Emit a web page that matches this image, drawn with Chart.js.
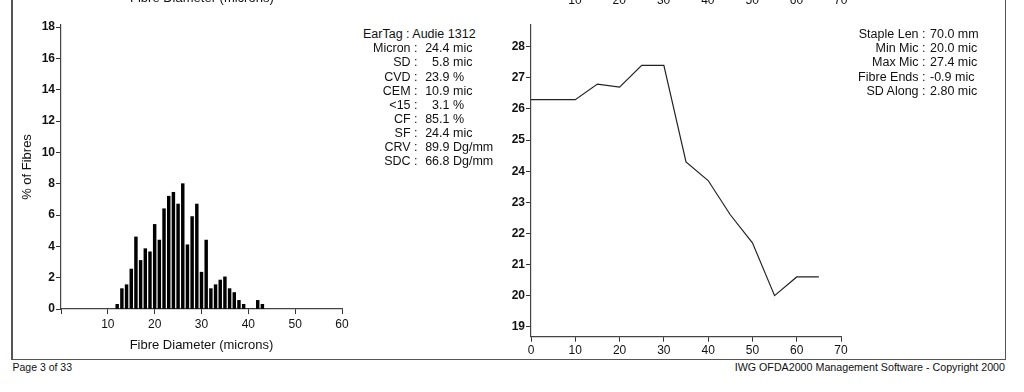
<!DOCTYPE html>
<html>
<head>
<meta charset="utf-8">
<script src="https://cdn.jsdelivr.net/npm/chart.js"></script>
<style>
  body { margin:0; background:#fff; }
  #page { position:relative; width:1024px; height:392px; overflow:hidden; font-family:'Liberation Sans', Arial, sans-serif; color:#111; }
  .t { position:absolute; white-space:pre; font-size:12.5px; line-height:14px; }
  .r { text-align:right; }
  .line { position:absolute; background:#555; }
  canvas { position:absolute; }
</style>
</head>
<body>
<div id="page">
  <div class="line" style="left:11px;top:0;width:1.5px;height:360px"></div>
  <div class="line" style="left:1004.5px;top:0;width:1.5px;height:360px"></div>
  <div class="line" style="left:11px;top:358.5px;width:995px;height:1.5px"></div>

  <canvas id="hist" width="346" height="356" style="left:14px;top:0"></canvas>
  <canvas id="along" width="370" height="356" style="left:490px;top:0"></canvas>
</div>
<script>
// histogram, % of fibres per micron class
const fibreMicrons = [12,13,14,15,16,17,18,19,20,21,22,23,24,25,26,27,28,29,30,31,32,33,34,35,36,37,38,39,40,41,42,43];
const fibrePercent = [0.3,1.3,1.55,2.55,4.6,3.1,3.85,3.65,5.4,4.4,6.4,7.2,7.45,6.7,8.0,4.1,5.9,6.7,2.35,4.4,1.3,1.55,1.85,2.05,1.3,1.05,0.55,0.3,0,0,0.55,0.3];
const histYTicks = [0,2,4,6,8,10,12,14,16,18];

// profile along the staple
const stapleMm = [0,5,10,15,20,25,30,35,40,45,50,55,60,65];
const micronAlong = [26.3,26.3,26.3,26.8,26.7,27.4,27.4,24.3,23.7,22.6,21.7,20.0,20.6,20.6];
const alongYTicks = [19,20,21,22,23,24,25,26,27,28];

const statLabels = ['Micron :','SD :','CVD :','CEM :','<15 :','CF :','SF :','CRV :','SDC :'];
const statValues = ['24.4','5.8','23.9','10.9','3.1','85.1','24.4','89.9','66.8'];
const statUnits = ['mic','mic','%','mic','%','%','mic','Dg/mm','Dg/mm'];
const earTag = 'Audie 1312';

const alongLabels = ['Staple Len :','Min Mic :','Max Mic :','Fibre Ends :','SD Along :'];
const alongValues = ['70.0 mm','20.0 mic','27.4 mic','-0.9 mic','2.80 mic'];

const prevTicks = [10,20,30,40,50,60,70];

const FONT = "'Liberation Sans', Arial, sans-serif";

function fixTicks(list){
  return function(axis){ axis.ticks = list.map(v => ({value:v})); };
}

function axisStyle(){
  return {
    offset:false,
    grid: { drawOnChartArea:false, offset:false, tickLength:5, tickColor:'#333', tickWidth:1 },
    border: { display:true, color:'#444', width:1.2 }
  };
}

new Chart(document.getElementById('hist'), {
  type:'bar',
  data: {
    datasets: [{
      data: fibreMicrons.map((m,i) => ({x:m, y:fibrePercent[i]})),
      backgroundColor:'#000',
      barThickness:2.8
    }]
  },
  options: {
    responsive:false, animation:false,
    layout: { padding:{top:25, right:18, left:0, bottom:0} },
    plugins: { legend:{display:false}, tooltip:{enabled:false} },
    scales: {
      x: Object.assign(axisStyle(), {
        type:'linear', min:0, max:60,
        ticks:{ stepSize:10, padding:3, color:'#111', font:{family:FONT, size:12},
          callback: v => v === 0 ? '' : v },
        title:{ display:true, text:'Fibre Diameter (microns)', color:'#111',
          font:{family:FONT, size:13}, padding:{top:0, bottom:3} },
        afterFit: s => { s.height = 47; }
      }),
      y: Object.assign(axisStyle(), {
        min:0, max:18.13,
        afterBuildTicks: fixTicks(histYTicks),
        ticks:{ padding:1, color:'#111', font:{family:FONT, size:12, weight:'bold'} },
        title:{ display:true, text:'% of Fibres', color:'#111',
          font:{family:FONT, size:13}, padding:{top:6, bottom:0} },
        afterFit: s => { s.width = 47; }
      })
    }
  }
});

new Chart(document.getElementById('along'), {
  type:'line',
  data: {
    datasets: [{
      data: stapleMm.map((m,i) => ({x:m, y:micronAlong[i]})),
      borderColor:'#222', borderWidth:1.2, pointRadius:0, tension:0, fill:false
    }]
  },
  options: {
    responsive:false, animation:false,
    layout: { padding:{top:25, right:19, left:0, bottom:0} },
    plugins: { legend:{display:false}, tooltip:{enabled:false} },
    scales: {
      x: Object.assign(axisStyle(), {
        type:'linear', min:0, max:70,
        ticks:{ stepSize:10, padding:2, color:'#111', font:{family:FONT, size:12} },
        afterFit: s => { s.height = 19.3; }
      }),
      y: Object.assign(axisStyle(), {
        min:18.68, max:28.7,
        afterBuildTicks: fixTicks(alongYTicks),
        ticks:{ padding:1, color:'#111', font:{family:FONT, size:12, weight:'bold'} },
        afterFit: s => { s.width = 41; }
      })
    }
  }
});

// text blocks
const page = document.getElementById('page');
function addText(txt, left, top, opts){
  const d = document.createElement('div');
  d.className = 't';
  d.textContent = txt;
  d.style.top = top + 'px';
  if (opts && opts.right !== undefined) {
    d.classList.add('r');
    d.style.right = (1024 - opts.right) + 'px';
  } else {
    d.style.left = left + 'px';
  }
  if (opts && opts.size) d.style.fontSize = opts.size + 'px';
  page.appendChild(d);
  return d;
}

const rowTop = 27.2, rowStep = 14.1;
addText('EarTag : ' + earTag, 363, rowTop);
statLabels.forEach((lab, i) => {
  const top = rowTop + (i+1)*rowStep;
  addText(lab, 0, top, {right:417.5});
  addText(statValues[i], 0, top, {right:449.5});
  addText(statUnits[i], 453, top);
});

alongLabels.forEach((lab, i) => {
  const top = rowTop + i*rowStep;
  addText(lab, 0, top, {right:925.5});
  addText(alongValues[i], 930, top);
});

// cut-off remains of the previous charts at the top edge
addText('Fibre Diameter (microns)', 130, -9, {size:13});
prevTicks.forEach((v, i) => {
  const d = addText(String(v), 0, -7, {size:12});
  d.style.left = (531 + i*44.3 + 44.3 - 7) + 'px';
});

// footer
addText('Page 3 of 33', 12.5, 360, {size:10.5});
addText('IWG OFDA2000 Management Software - Copyright 2000', 0, 360, {right:1005, size:10.7});
</script>
</body>
</html>
